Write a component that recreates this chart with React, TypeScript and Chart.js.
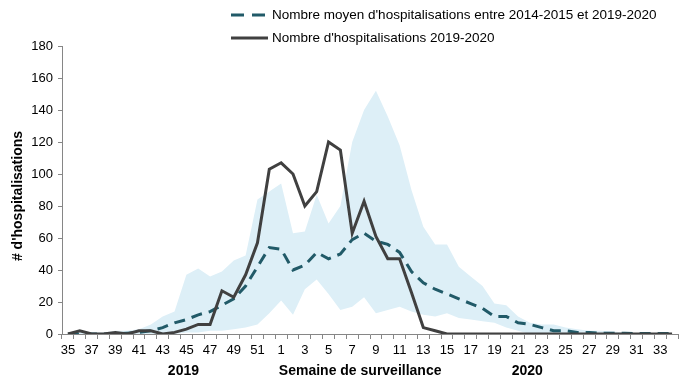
import React, { useEffect, useRef } from "react";
import { Chart, registerables } from "chart.js";

Chart.register(...registerables);

const weeks: string[] = [
  "35", "36", "37", "38", "39", "40", "41", "42", "43", "44", "45", "46", "47", "48", "49", "50", "51", "52",
  "1", "2", "3", "4", "5", "6", "7", "8", "9", "10", "11", "12", "13", "14", "15", "16", "17", "18", "19", "20",
  "21", "22", "23", "24", "25", "26", "27", "28", "29", "30", "31", "32", "33", "34",
];

const actual2019_2020: number[] = [
  0, 2, 0, 0, 1, 0, 2, 2, 0, 1, 3, 6, 6, 27, 23, 37, 57, 103,
  107, 100, 80, 89, 120, 115, 63, 83, 61, 47, 47, 26, 4, 2, 0, 0, 0, 0, 0, 0,
  0, 0, 0, 0, 0, 0, 0, 0, 0, 0, 0, 0, 0, 0,
];

const meanHistoric: number[] = [
  0, 0, 0, 0, 0, 0.5, 1, 2, 4, 7, 9, 12, 14, 18, 22, 30, 42, 54,
  53, 40, 43, 51, 47, 50, 59, 63, 58, 56, 51, 39, 32, 28, 25, 22, 19, 16, 11, 11,
  7, 6, 4, 2, 2, 1, 1, 0.5, 0.5, 0.5, 0.3, 0.3, 0.3, 0.3,
];

const rangeMax: number[] = [
  1, 2, 1, 1, 2, 2, 3, 6, 11, 14, 37, 41, 36, 39, 46, 49, 84, 89,
  94, 63, 64, 87, 69, 80, 120, 140, 152, 136, 118, 90, 67, 56, 56, 42, 36, 30, 19, 18,
  11, 7, 6, 6, 4, 3, 2, 2, 1.5, 1, 0.5, 0.5, 0.5, 0.5,
];

const rangeMin: number[] = [
  0, 0, 0, 0, 0, 0, 0, 0, 0, 0, 1, 1, 2, 2, 3, 4, 6, 13,
  21, 12, 28, 34, 25, 15, 17, 23, 13, 15, 17, 14, 12, 11, 13, 10, 9, 8, 7, 4,
  2, 0, 0, 0, 0, 0, 0, 0, 0, 0, 0, 0, 0, 0,
];

const legendMean = "Nombre moyen d'hospitalisations entre 2014-2015 et 2019-2020";
const legendActual = "Nombre d'hospitalisations 2019-2020";
const yTitle = "# d'hospitalisations";
const xTitle = "Semaine de surveillance";
const year1 = "2019";
const year2 = "2020";

const FONT = '"Liberation Sans", Arial, sans-serif';
const MEAN_COLOR = "#215A68";
const ACTUAL_COLOR = "#404040";
const BAND_COLOR = "#DDEFF7";
const AXIS_COLOR = "#868686";

export default function App() {
  const ref = useRef<HTMLCanvasElement | null>(null);

  useEffect(() => {
    if (!ref.current) return;
    const overlay = {
      id: "overlay",
      afterDraw(chart: any) {
        const ctx = chart.ctx as CanvasRenderingContext2D;
        const xs = chart.scales.x;
        const area = chart.chartArea;
        ctx.save();
        // legend
        ctx.font = `13.5px ${FONT}`;
        ctx.fillStyle = "#000";
        ctx.textBaseline = "middle";
        ctx.textAlign = "left";
        ctx.lineWidth = 3;
        ctx.strokeStyle = MEAN_COLOR;
        ctx.setLineDash([13, 8]);
        ctx.beginPath();
        ctx.moveTo(231, 15);
        ctx.lineTo(266, 15);
        ctx.stroke();
        ctx.fillText(legendMean, 272, 15);
        ctx.setLineDash([]);
        ctx.strokeStyle = ACTUAL_COLOR;
        ctx.beginPath();
        ctx.moveTo(231, 38);
        ctx.lineTo(268, 38);
        ctx.stroke();
        ctx.fillText(legendActual, 272, 38);
        // y title
        ctx.font = `bold 14px ${FONT}`;
        ctx.textAlign = "center";
        ctx.save();
        ctx.translate(18, (area.top + area.bottom) / 2 + 6);
        ctx.rotate(-Math.PI / 2);
        ctx.fillText(yTitle, 0, 0);
        ctx.restore();
        // bottom titles
        const yb = 371;
        ctx.fillText(year1, xs.getPixelForValue(9.75), yb);
        ctx.fillText(xTitle, xs.getPixelForValue(24.67), yb);
        ctx.fillText(year2, xs.getPixelForValue(38.77), yb);
        ctx.restore();
      },
    };

    const chart = new Chart(ref.current, {
      type: "line",
      data: {
        labels: weeks,
        datasets: [
          {
            label: legendMean,
            data: meanHistoric,
            borderColor: MEAN_COLOR,
            borderWidth: 3,
            borderDash: [11, 7],
            pointRadius: 0,
            fill: false,
            tension: 0,
            order: 1,
          },
          {
            label: legendActual,
            data: actual2019_2020,
            borderColor: ACTUAL_COLOR,
            borderWidth: 3,
            pointRadius: 0,
            fill: false,
            tension: 0,
            order: 0,
          },
          {
            label: "min",
            data: rangeMin,
            borderWidth: 0,
            borderColor: "rgba(0,0,0,0)",
            pointRadius: 0,
            fill: false,
            order: 3,
          },
          {
            label: "max",
            data: rangeMax,
            borderWidth: 0,
            borderColor: "rgba(0,0,0,0)",
            backgroundColor: BAND_COLOR,
            pointRadius: 0,
            fill: 2,
            order: 2,
          },
        ],
      },
      options: {
        responsive: false,
        animation: false,
        layout: { padding: { left: 0, right: 16, top: 46, bottom: 0 } },
        plugins: {
          legend: { display: false },
          tooltip: { enabled: false },
          filler: { propagate: false },
        },
        scales: {
          x: {
            type: "category",
            offset: true,
            afterFit(scale: any) {
              scale.height = 58;
            },
            grid: {
              offset: true,
              drawOnChartArea: false,
              drawTicks: true,
              tickLength: 5,
              color: AXIS_COLOR,
            },
            border: { display: true, color: AXIS_COLOR, width: 1 },
            ticks: {
              autoSkip: false,
              maxRotation: 0,
              minRotation: 0,
              padding: 4,
              color: "#000",
              font: { family: FONT, size: 13 },
              callback: (_v: any, i: number) => (i % 2 === 0 ? weeks[i] : ""),
            },
          },
          y: {
            min: 0,
            max: 180,
            afterFit(scale: any) {
              scale.width = 62;
            },
            grid: {
              drawOnChartArea: false,
              drawTicks: true,
              tickLength: 4,
              color: AXIS_COLOR,
            },
            border: { display: true, color: AXIS_COLOR, width: 1 },
            ticks: {
              stepSize: 20,
              padding: 5,
              color: "#000",
              font: { family: FONT, size: 13 },
            },
          },
        },
      },
      plugins: [overlay],
    });
    return () => chart.destroy();
  }, []);

  return (
    <div style={{ position: "fixed", left: 0, top: 0, width: 694, height: 392, background: "#fff" }}>
      <canvas ref={ref} width={694} height={392} style={{ display: "block" }} />
    </div>
  );
}
